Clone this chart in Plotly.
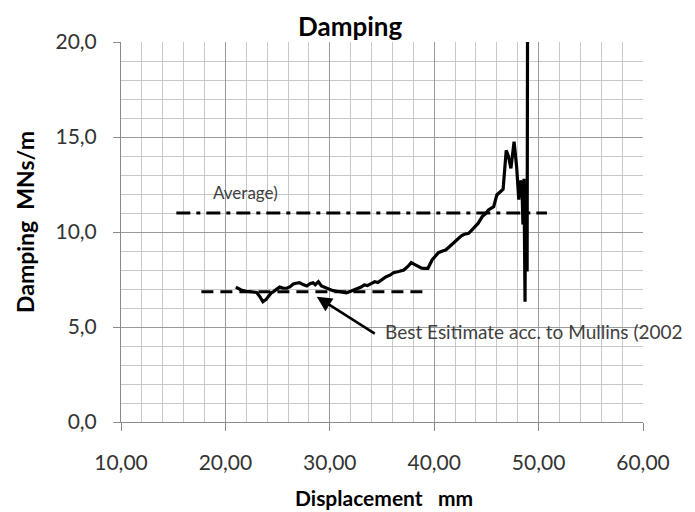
import plotly.graph_objects as go

# ---- data ----
disp_mm = [21.0, 21.5, 22.0, 22.5, 23.0, 23.3, 23.6, 23.9, 24.1, 24.4, 24.6, 24.9, 25.2, 25.5,
           25.9, 26.2, 26.5, 26.8, 27.1, 27.5, 27.8, 28.1, 28.4, 28.6, 28.9, 29.2, 29.5, 29.7,
           30.0, 30.3, 30.7, 31.0, 31.3, 31.6, 32.0, 32.3, 32.6, 33.0, 33.3, 33.6, 34.0, 34.3,
           34.6, 35.0, 35.4, 35.8, 36.1, 36.5, 36.8, 37.1, 37.5, 37.8, 38.1, 38.5, 38.8, 39.1,
           39.4, 39.8, 40.1, 40.4, 40.8, 41.1, 41.4, 41.8, 42.2, 42.6, 42.9, 43.3, 43.6, 43.9,
           44.2, 44.6, 44.9, 45.2, 45.5, 45.7, 46.0, 46.3, 46.6, 46.9, 47.1, 47.35, 47.65, 47.9,
           48.1, 48.25, 48.4, 48.5, 48.6, 48.7, 48.75, 48.85, 48.9, 48.95]
damping = [7.10, 6.95, 6.88, 6.86, 6.82, 6.60, 6.33, 6.45, 6.62, 6.80, 6.86, 6.98, 7.10, 7.05,
           7.04, 7.12, 7.26, 7.30, 7.33, 7.22, 7.16, 7.28, 7.33, 7.22, 7.38, 7.16, 7.08, 7.04,
           6.98, 6.91, 6.88, 6.86, 6.82, 6.80, 6.88, 6.95, 6.98, 7.10, 7.21, 7.18, 7.30, 7.38,
           7.34, 7.50, 7.65, 7.74, 7.86, 7.91, 7.95, 8.00, 8.20, 8.39, 8.30, 8.18, 8.10, 8.09,
           8.09, 8.53, 8.70, 8.91, 9.00, 9.05, 9.20, 9.40, 9.63, 9.80, 9.88, 9.93, 10.10, 10.28,
           10.45, 10.81, 10.95, 11.16, 11.25, 11.33, 11.95, 12.10, 12.25, 14.30, 14.00, 13.35, 14.75, 13.40,
           11.70, 12.70, 12.56, 10.40, 12.80, 6.33, 12.50, 8.00, 8.00, 24.0]

avg_x = [15.3, 50.8]
avg_y = [11.0, 11.0]
best_x = [17.7, 39.4]
best_y = [6.86, 6.86]

title_text = "Damping"
x_title = "Displacement   mm"
y_title = "Damping  MNs/m"
avg_label = "Average)"
best_label = "Best Esitimate acc. to Mullins (2002"

FONT = "Lato"

fig = go.Figure()
fig.add_trace(go.Scatter(x=avg_x, y=avg_y, mode="lines",
                         line=dict(color="black", width=3, dash="14px,6px,4px,6px"),
                         hoverinfo="skip"))
fig.add_trace(go.Scatter(x=best_x, y=best_y, mode="lines",
                         line=dict(color="black", width=3, dash="12px,7px"),
                         hoverinfo="skip"))
fig.add_trace(go.Scatter(x=disp_mm, y=damping, mode="lines",
                         line=dict(color="black", width=3.2)))

fig.update_layout(
    width=695, height=512,
    margin=dict(l=121, r=52, t=42, b=90),
    paper_bgcolor="white", plot_bgcolor="white",
    showlegend=False,
    separators=",.",
    font=dict(family=FONT, color="#333333"),
)

fig.update_xaxes(
    range=[10, 60], dtick=10, tick0=10, tickformat=".2f",
    showgrid=True, gridcolor="#9a9a9a", gridwidth=1,
    minor=dict(dtick=2, showgrid=True, gridcolor="#c8c8c8", gridwidth=1),
    showline=True, linecolor="#8a8a8a", linewidth=1,
    ticks="outside", ticklen=8, tickcolor="#8a8a8a",
    tickfont=dict(family=FONT, size=21, color="#333333"),
    ticklabelstandoff=14,
    zeroline=False, mirror=False,
)
fig.update_yaxes(
    range=[0, 20], dtick=5, tick0=0, tickformat=".1f",
    showgrid=True, gridcolor="#9a9a9a", gridwidth=1,
    minor=dict(dtick=1, showgrid=True, gridcolor="#c8c8c8", gridwidth=1),
    showline=True, linecolor="#8a8a8a", linewidth=1,
    ticks="outside", ticklen=7, tickcolor="#8a8a8a",
    tickfont=dict(family=FONT, size=21, color="#333333"),
    ticklabelstandoff=12,
    zeroline=False,
)

pw, ph = 695 - 121 - 52, 512 - 42 - 90

def px_x(p):
    return (p - 121) / pw

def px_y(p):
    return (422 - p) / ph

fig.add_annotation(text=title_text, xref="paper", yref="paper", x=px_x(350), y=px_y(26),
                   showarrow=False, font=dict(family=FONT, size=26, color="black", weight="bold"),
                   xanchor="center", yanchor="middle")
fig.add_annotation(text=x_title, xref="paper", yref="paper", x=px_x(384), y=px_y(497),
                   showarrow=False, font=dict(family=FONT, size=21, color="black", weight="bold"),
                   xanchor="center", yanchor="middle")
fig.add_annotation(text=y_title, xref="paper", yref="paper", x=px_x(25), y=px_y(222),
                   showarrow=False, textangle=-90,
                   font=dict(family=FONT, size=23, color="black", weight="bold"),
                   xanchor="center", yanchor="middle")
fig.add_annotation(text=avg_label, x=18.62, y=12.1, xref="x", yref="y",
                   showarrow=False, xanchor="left", yanchor="middle",
                   font=dict(family=FONT, size=17, color="#404040"))
fig.add_annotation(text=best_label, x=35.1, y=4.75, xref="x", yref="y",
                   showarrow=False, xanchor="left", yanchor="middle",
                   font=dict(family=FONT, size=19, color="#404040"))
fig.add_annotation(x=28.75, y=6.59, ax=34.45, ay=4.6, xref="x", yref="y",
                   axref="x", ayref="y", text="", showarrow=True,
                   arrowhead=2, arrowsize=1.2, arrowwidth=2.5, arrowcolor="black",
                   standoff=0)

fig.write_html("out.html")
